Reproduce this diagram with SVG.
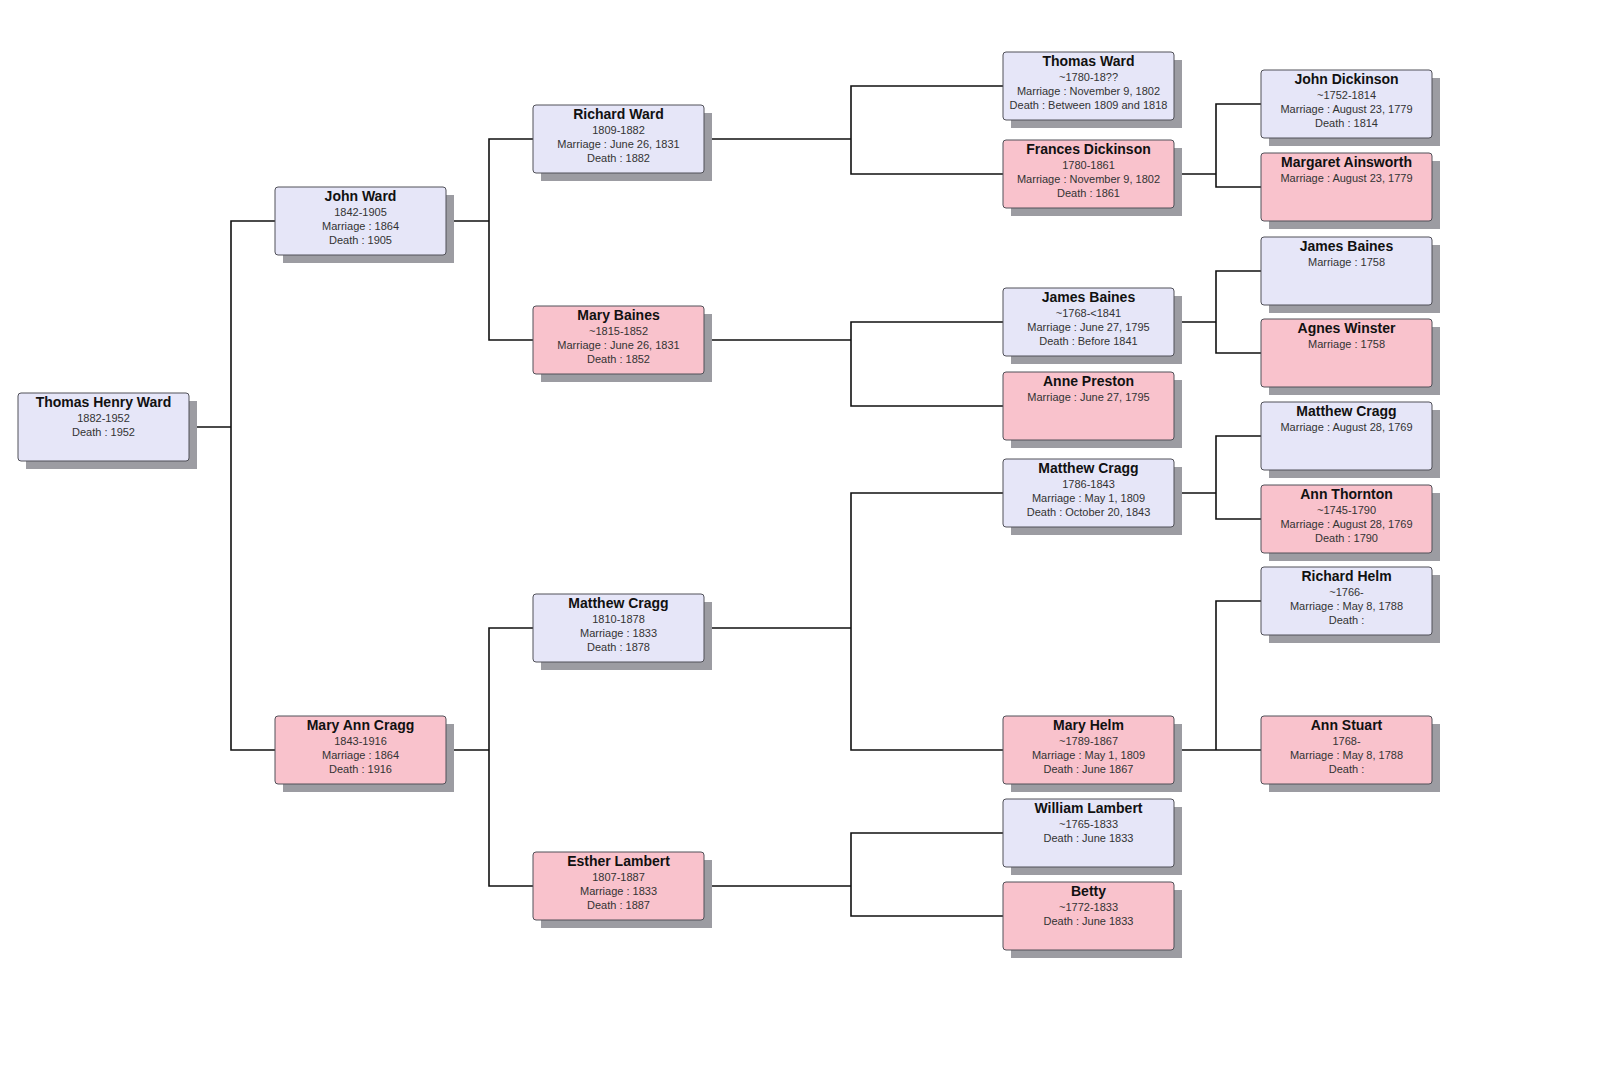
<svg xmlns="http://www.w3.org/2000/svg" width="1600" height="1090" viewBox="0 0 1600 1090">
<style>
.sh{fill:#9c9ca2}
.m{fill:#e6e6f8;stroke:#505058;stroke-width:1}
.f{fill:#f9c2cc;stroke:#505058;stroke-width:1}
.n{font-family:"Liberation Sans",Arial,sans-serif;font-size:14px;font-weight:bold;fill:#111;text-anchor:middle}
.d{font-family:"Liberation Sans",Arial,sans-serif;font-size:11px;fill:#333;text-anchor:middle}
.c{fill:none;stroke:#111;stroke-width:1.6}
</style>
<rect width="1600" height="1090" fill="#ffffff"/>
<g id="connectors">
<path class="c" d="M189,427 H231 M275,221 H231 V750 H275"/>
<path class="c" d="M446,221 H489 M533,139 H489 V340 H533"/>
<path class="c" d="M446,750 H489 M533,628 H489 V886 H533"/>
<path class="c" d="M703,139 H851 M1003,86 H851 V174 H1003"/>
<path class="c" d="M703,340 H851 M1003,322 H851 V406 H1003"/>
<path class="c" d="M703,628 H851 M1003,493 H851 V750 H1003"/>
<path class="c" d="M703,886 H851 M1003,833 H851 V916 H1003"/>
<path class="c" d="M1174,174 H1216 M1261,104 H1216 V187 H1261"/>
<path class="c" d="M1174,322 H1216 M1261,271 H1216 V353 H1261"/>
<path class="c" d="M1174,493 H1216 M1261,436 H1216 V519 H1261"/>
<path class="c" d="M1174,750 H1216 M1261,601 H1216 V750 H1261"/>
</g>
<g id="thomas-henry-ward"><rect class="sh" x="26" y="401" width="171" height="68"/><rect class="m" x="18" y="393" width="171" height="68" rx="3"/><text class="n" x="103.5" y="407">Thomas Henry Ward</text><text class="d" x="103.5" y="422">1882-1952</text><text class="d" x="103.5" y="436">Death : 1952</text></g>
<g id="john-ward"><rect class="sh" x="283" y="195" width="171" height="68"/><rect class="m" x="275" y="187" width="171" height="68" rx="3"/><text class="n" x="360.5" y="201">John Ward</text><text class="d" x="360.5" y="216">1842-1905</text><text class="d" x="360.5" y="230">Marriage : 1864</text><text class="d" x="360.5" y="244">Death : 1905</text></g>
<g id="mary-ann-cragg"><rect class="sh" x="283" y="724" width="171" height="68"/><rect class="f" x="275" y="716" width="171" height="68" rx="3"/><text class="n" x="360.5" y="730">Mary Ann Cragg</text><text class="d" x="360.5" y="745">1843-1916</text><text class="d" x="360.5" y="759">Marriage : 1864</text><text class="d" x="360.5" y="773">Death : 1916</text></g>
<g id="richard-ward"><rect class="sh" x="541" y="113" width="171" height="68"/><rect class="m" x="533" y="105" width="171" height="68" rx="3"/><text class="n" x="618.5" y="119">Richard Ward</text><text class="d" x="618.5" y="134">1809-1882</text><text class="d" x="618.5" y="148">Marriage : June 26, 1831</text><text class="d" x="618.5" y="162">Death : 1882</text></g>
<g id="mary-baines"><rect class="sh" x="541" y="314" width="171" height="68"/><rect class="f" x="533" y="306" width="171" height="68" rx="3"/><text class="n" x="618.5" y="320">Mary Baines</text><text class="d" x="618.5" y="335">~1815-1852</text><text class="d" x="618.5" y="349">Marriage : June 26, 1831</text><text class="d" x="618.5" y="363">Death : 1852</text></g>
<g id="matthew-cragg-1810"><rect class="sh" x="541" y="602" width="171" height="68"/><rect class="m" x="533" y="594" width="171" height="68" rx="3"/><text class="n" x="618.5" y="608">Matthew Cragg</text><text class="d" x="618.5" y="623">1810-1878</text><text class="d" x="618.5" y="637">Marriage : 1833</text><text class="d" x="618.5" y="651">Death : 1878</text></g>
<g id="esther-lambert"><rect class="sh" x="541" y="860" width="171" height="68"/><rect class="f" x="533" y="852" width="171" height="68" rx="3"/><text class="n" x="618.5" y="866">Esther Lambert</text><text class="d" x="618.5" y="881">1807-1887</text><text class="d" x="618.5" y="895">Marriage : 1833</text><text class="d" x="618.5" y="909">Death : 1887</text></g>
<g id="thomas-ward"><rect class="sh" x="1011" y="60" width="171" height="68"/><rect class="m" x="1003" y="52" width="171" height="68" rx="3"/><text class="n" x="1088.5" y="66">Thomas Ward</text><text class="d" x="1088.5" y="81">~1780-18??</text><text class="d" x="1088.5" y="95">Marriage : November 9, 1802</text><text class="d" x="1088.5" y="109">Death : Between 1809 and 1818</text></g>
<g id="frances-dickinson"><rect class="sh" x="1011" y="148" width="171" height="68"/><rect class="f" x="1003" y="140" width="171" height="68" rx="3"/><text class="n" x="1088.5" y="154">Frances Dickinson</text><text class="d" x="1088.5" y="169">1780-1861</text><text class="d" x="1088.5" y="183">Marriage : November 9, 1802</text><text class="d" x="1088.5" y="197">Death : 1861</text></g>
<g id="james-baines-1768"><rect class="sh" x="1011" y="296" width="171" height="68"/><rect class="m" x="1003" y="288" width="171" height="68" rx="3"/><text class="n" x="1088.5" y="302">James Baines</text><text class="d" x="1088.5" y="317">~1768-&lt;1841</text><text class="d" x="1088.5" y="331">Marriage : June 27, 1795</text><text class="d" x="1088.5" y="345">Death : Before 1841</text></g>
<g id="anne-preston"><rect class="sh" x="1011" y="380" width="171" height="68"/><rect class="f" x="1003" y="372" width="171" height="68" rx="3"/><text class="n" x="1088.5" y="386">Anne Preston</text><text class="d" x="1088.5" y="401">Marriage : June 27, 1795</text></g>
<g id="matthew-cragg-1786"><rect class="sh" x="1011" y="467" width="171" height="68"/><rect class="m" x="1003" y="459" width="171" height="68" rx="3"/><text class="n" x="1088.5" y="473">Matthew Cragg</text><text class="d" x="1088.5" y="488">1786-1843</text><text class="d" x="1088.5" y="502">Marriage : May 1, 1809</text><text class="d" x="1088.5" y="516">Death : October 20, 1843</text></g>
<g id="mary-helm"><rect class="sh" x="1011" y="724" width="171" height="68"/><rect class="f" x="1003" y="716" width="171" height="68" rx="3"/><text class="n" x="1088.5" y="730">Mary Helm</text><text class="d" x="1088.5" y="745">~1789-1867</text><text class="d" x="1088.5" y="759">Marriage : May 1, 1809</text><text class="d" x="1088.5" y="773">Death : June 1867</text></g>
<g id="william-lambert"><rect class="sh" x="1011" y="807" width="171" height="68"/><rect class="m" x="1003" y="799" width="171" height="68" rx="3"/><text class="n" x="1088.5" y="813">William Lambert</text><text class="d" x="1088.5" y="828">~1765-1833</text><text class="d" x="1088.5" y="842">Death : June 1833</text></g>
<g id="betty"><rect class="sh" x="1011" y="890" width="171" height="68"/><rect class="f" x="1003" y="882" width="171" height="68" rx="3"/><text class="n" x="1088.5" y="896">Betty</text><text class="d" x="1088.5" y="911">~1772-1833</text><text class="d" x="1088.5" y="925">Death : June 1833</text></g>
<g id="john-dickinson"><rect class="sh" x="1269" y="78" width="171" height="68"/><rect class="m" x="1261" y="70" width="171" height="68" rx="3"/><text class="n" x="1346.5" y="84">John Dickinson</text><text class="d" x="1346.5" y="99">~1752-1814</text><text class="d" x="1346.5" y="113">Marriage : August 23, 1779</text><text class="d" x="1346.5" y="127">Death : 1814</text></g>
<g id="margaret-ainsworth"><rect class="sh" x="1269" y="161" width="171" height="68"/><rect class="f" x="1261" y="153" width="171" height="68" rx="3"/><text class="n" x="1346.5" y="167">Margaret Ainsworth</text><text class="d" x="1346.5" y="182">Marriage : August 23, 1779</text></g>
<g id="james-baines-1758"><rect class="sh" x="1269" y="245" width="171" height="68"/><rect class="m" x="1261" y="237" width="171" height="68" rx="3"/><text class="n" x="1346.5" y="251">James Baines</text><text class="d" x="1346.5" y="266">Marriage : 1758</text></g>
<g id="agnes-winster"><rect class="sh" x="1269" y="327" width="171" height="68"/><rect class="f" x="1261" y="319" width="171" height="68" rx="3"/><text class="n" x="1346.5" y="333">Agnes Winster</text><text class="d" x="1346.5" y="348">Marriage : 1758</text></g>
<g id="matthew-cragg-1769"><rect class="sh" x="1269" y="410" width="171" height="68"/><rect class="m" x="1261" y="402" width="171" height="68" rx="3"/><text class="n" x="1346.5" y="416">Matthew Cragg</text><text class="d" x="1346.5" y="431">Marriage : August 28, 1769</text></g>
<g id="ann-thornton"><rect class="sh" x="1269" y="493" width="171" height="68"/><rect class="f" x="1261" y="485" width="171" height="68" rx="3"/><text class="n" x="1346.5" y="499">Ann Thornton</text><text class="d" x="1346.5" y="514">~1745-1790</text><text class="d" x="1346.5" y="528">Marriage : August 28, 1769</text><text class="d" x="1346.5" y="542">Death : 1790</text></g>
<g id="richard-helm"><rect class="sh" x="1269" y="575" width="171" height="68"/><rect class="m" x="1261" y="567" width="171" height="68" rx="3"/><text class="n" x="1346.5" y="581">Richard Helm</text><text class="d" x="1346.5" y="596">~1766-</text><text class="d" x="1346.5" y="610">Marriage : May 8, 1788</text><text class="d" x="1346.5" y="624">Death :</text></g>
<g id="ann-stuart"><rect class="sh" x="1269" y="724" width="171" height="68"/><rect class="f" x="1261" y="716" width="171" height="68" rx="3"/><text class="n" x="1346.5" y="730">Ann Stuart</text><text class="d" x="1346.5" y="745">1768-</text><text class="d" x="1346.5" y="759">Marriage : May 8, 1788</text><text class="d" x="1346.5" y="773">Death :</text></g>
</svg>
